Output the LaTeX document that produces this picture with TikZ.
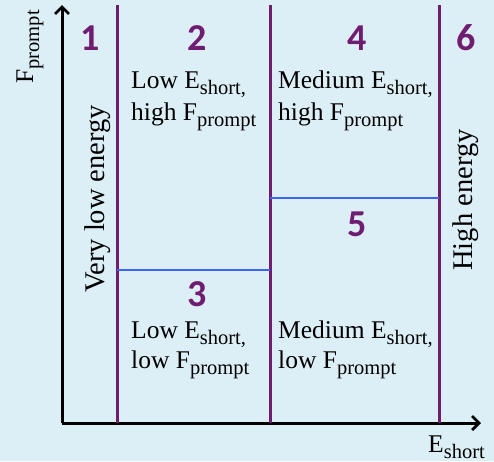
\documentclass[tikz,border=0pt]{standalone}
\usepackage{fontspec}
\setmainfont{Liberation Serif}
\newfontfamily\numfont{Carlito}
\usetikzlibrary{arrows.meta}
\definecolor{bgc}{RGB}{221,239,246}
\definecolor{purp}{RGB}{112,28,112}
\definecolor{bluel}{RGB}{60,100,250}
\newcommand\sbt[1]{\raisebox{-6pt}{\fontsize{20.5}{20.5}\selectfont #1}}
\tikzset{
  axis/.style={line width=3pt, -{Straight Barb[length=7pt,width=14pt,line width=2.8pt]}},
  divider/.style={purp, line width=3pt},
  splitline/.style={bluel, line width=2.2pt},
  num/.style={text=purp, font=\numfont\bfseries\fontsize{38}{38}\selectfont, inner sep=0pt},
  lbl/.style={font=\fontsize{25.5}{32}\selectfont, inner sep=0pt, anchor=base west},
  axlbl/.style={font=\fontsize{25.5}{32}\selectfont, inner sep=0pt},
  biglbl/.style={font=\fontsize{28.5}{32}\selectfont, inner sep=0pt, rotate=90, anchor=base},
}
\begin{document}
\begin{tikzpicture}[x=1pt,y=-1pt]
\useasboundingbox[fill=bgc] (0,0) rectangle (494,461);
% axes
\coordinate (O) at (62,423);
\coordinate (ytop) at (62,5);
\coordinate (xend) at (481,423);
\draw[axis] (O) -- (ytop);
\draw[axis] (O) -- (xend);
% dividers
\coordinate (d1t) at (117,5); \coordinate (d1b) at (117,423);
\coordinate (d2t) at (270,5); \coordinate (d2b) at (270,423);
\coordinate (d3t) at (439,5); \coordinate (d3b) at (439,423);
\draw[divider] (d1t) -- (d1b);
\draw[divider] (d2t) -- (d2b);
\draw[divider] (d3t) -- (d3b);
% splits
\coordinate (s1a) at (117,270); \coordinate (s1b) at (270,270);
\coordinate (s2a) at (270,198); \coordinate (s2b) at (439,198);
\draw[splitline] (s1a) -- (s1b);
\draw[splitline] (s2a) -- (s2b);
% numbers
\node[num] (n1) at (90,38) {1};
\node[num] (n2) at (197,38) {2};
\node[num] (n4) at (357,38) {4};
\node[num] (n6) at (466,38) {6};
\node[num] (n5) at (357,224) {5};
\node[num] (n3) at (197,294) {3};
% region texts
\node[lbl] (t2a) at (131,88) {Low E\sbt{short,}};
\node[lbl] (t2b) at (131,120) {high F\sbt{prompt}};
\node[lbl] (t4a) at (278,88) {Medium E\sbt{short,}};
\node[lbl] (t4b) at (278,120) {high F\sbt{prompt}};
\node[lbl] (t3a) at (131,338) {Low E\sbt{short,}};
\node[lbl] (t3b) at (131,368) {low F\sbt{prompt}};
\node[lbl] (t5a) at (278,338) {Medium E\sbt{short,}};
\node[lbl] (t5b) at (278,368) {low F\sbt{prompt}};
% rotated
\node[biglbl] (vle) at (104,199) {Very low energy};
\node[biglbl] (he) at (472,200) {High energy};
\node[axlbl, rotate=90, anchor=base] (fp) at (33,47) {F\sbt{prompt}};
\node[axlbl, anchor=base west] (es) at (428,452) {E\sbt{short}};
\end{tikzpicture}
\end{document}
